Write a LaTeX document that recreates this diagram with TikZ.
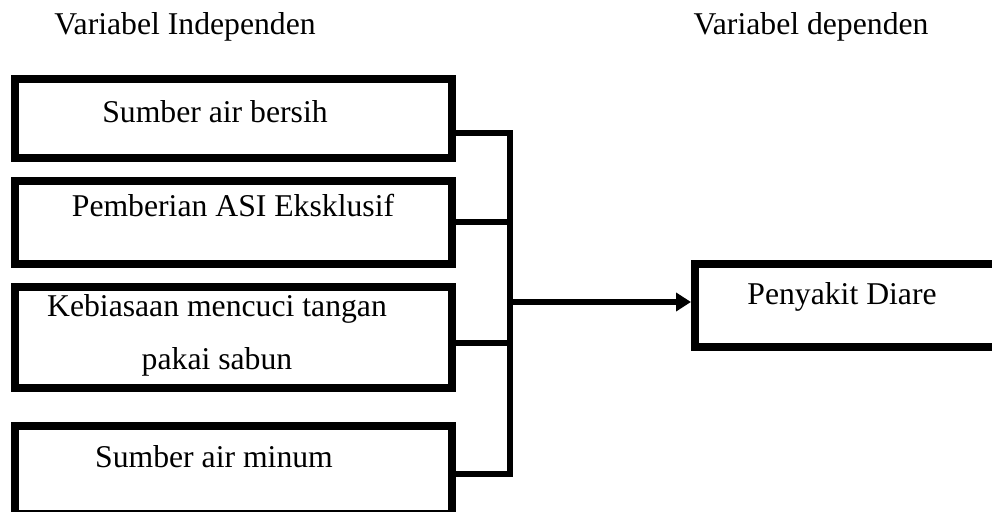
\documentclass[tikz,border=0pt]{standalone}
\usepackage{fontspec}
\setmainfont{Liberation Serif}
\usetikzlibrary{arrows.meta,positioning}

\begin{document}
\begin{tikzpicture}[x=0.5pt,y=-0.5pt,
		font=\fontsize{15.85}{26.5}\selectfont,
		varbox/.style={draw, line width=4pt, minimum width=218.5pt, minimum height=#1, inner sep=0pt},
		txt/.style={inner sep=0pt, anchor=base, align=center},
		conn/.style={line width=2.75pt}]
				\useasboundingbox (0,0) rectangle (992,512);
				
				% Headings
				\node[txt] (indep) at (185,35) {Variabel Independen};
				\node[txt] (dep) at (811,35) {Variabel dependen};
				
				% Independent boxes
				\node[varbox=39.5pt] (air) at (233.5,118.5) {};
				\node[varbox=41.5pt] (asi) at (233.5,222.5) {};
				\node[varbox=50.5pt] (cuci) at (233.5,337.5) {};
				\node[varbox=44pt] (minum) at (233.5,470) {};
				\node[txt] (tair) at (215,123) {Sumber air bersih};
				\node[txt] (tasi) at (233,217) {Pemberian ASI Eksklusif};
				\node[txt] (tcuci) at (217,370) {Kebiasaan mencuci tangan\\pakai sabun};
				\node[txt] (tminum) at (214,468) {Sumber air minum};
				
				% Dependent box
				\node[varbox=41.5pt, minimum width=165pt] (diare) at (860,305.5) {};
				\node[txt] (tdiare) at (842,305) {Penyakit Diare};
				
				% Joins
				\coordinate (j1) at (510,133);
				\coordinate (j2) at (510,222);
				\coordinate (j3) at (510,343);
				\coordinate (j4) at (510,474);
				\coordinate (jm) at (510,302);
				\draw[conn] (j1 -| air.east) -- (j1) -- (j4) -- (j4 -| minum.east);
				\draw[conn] (j2 -| asi.east) -- (j2);
				\draw[conn] (j3 -| cuci.east) -- (j3);
				\draw[conn, -{Triangle[length=7.5pt,width=9pt]}] (jm) -- (jm -| diare.west);
			\end{tikzpicture}
\end{document}
